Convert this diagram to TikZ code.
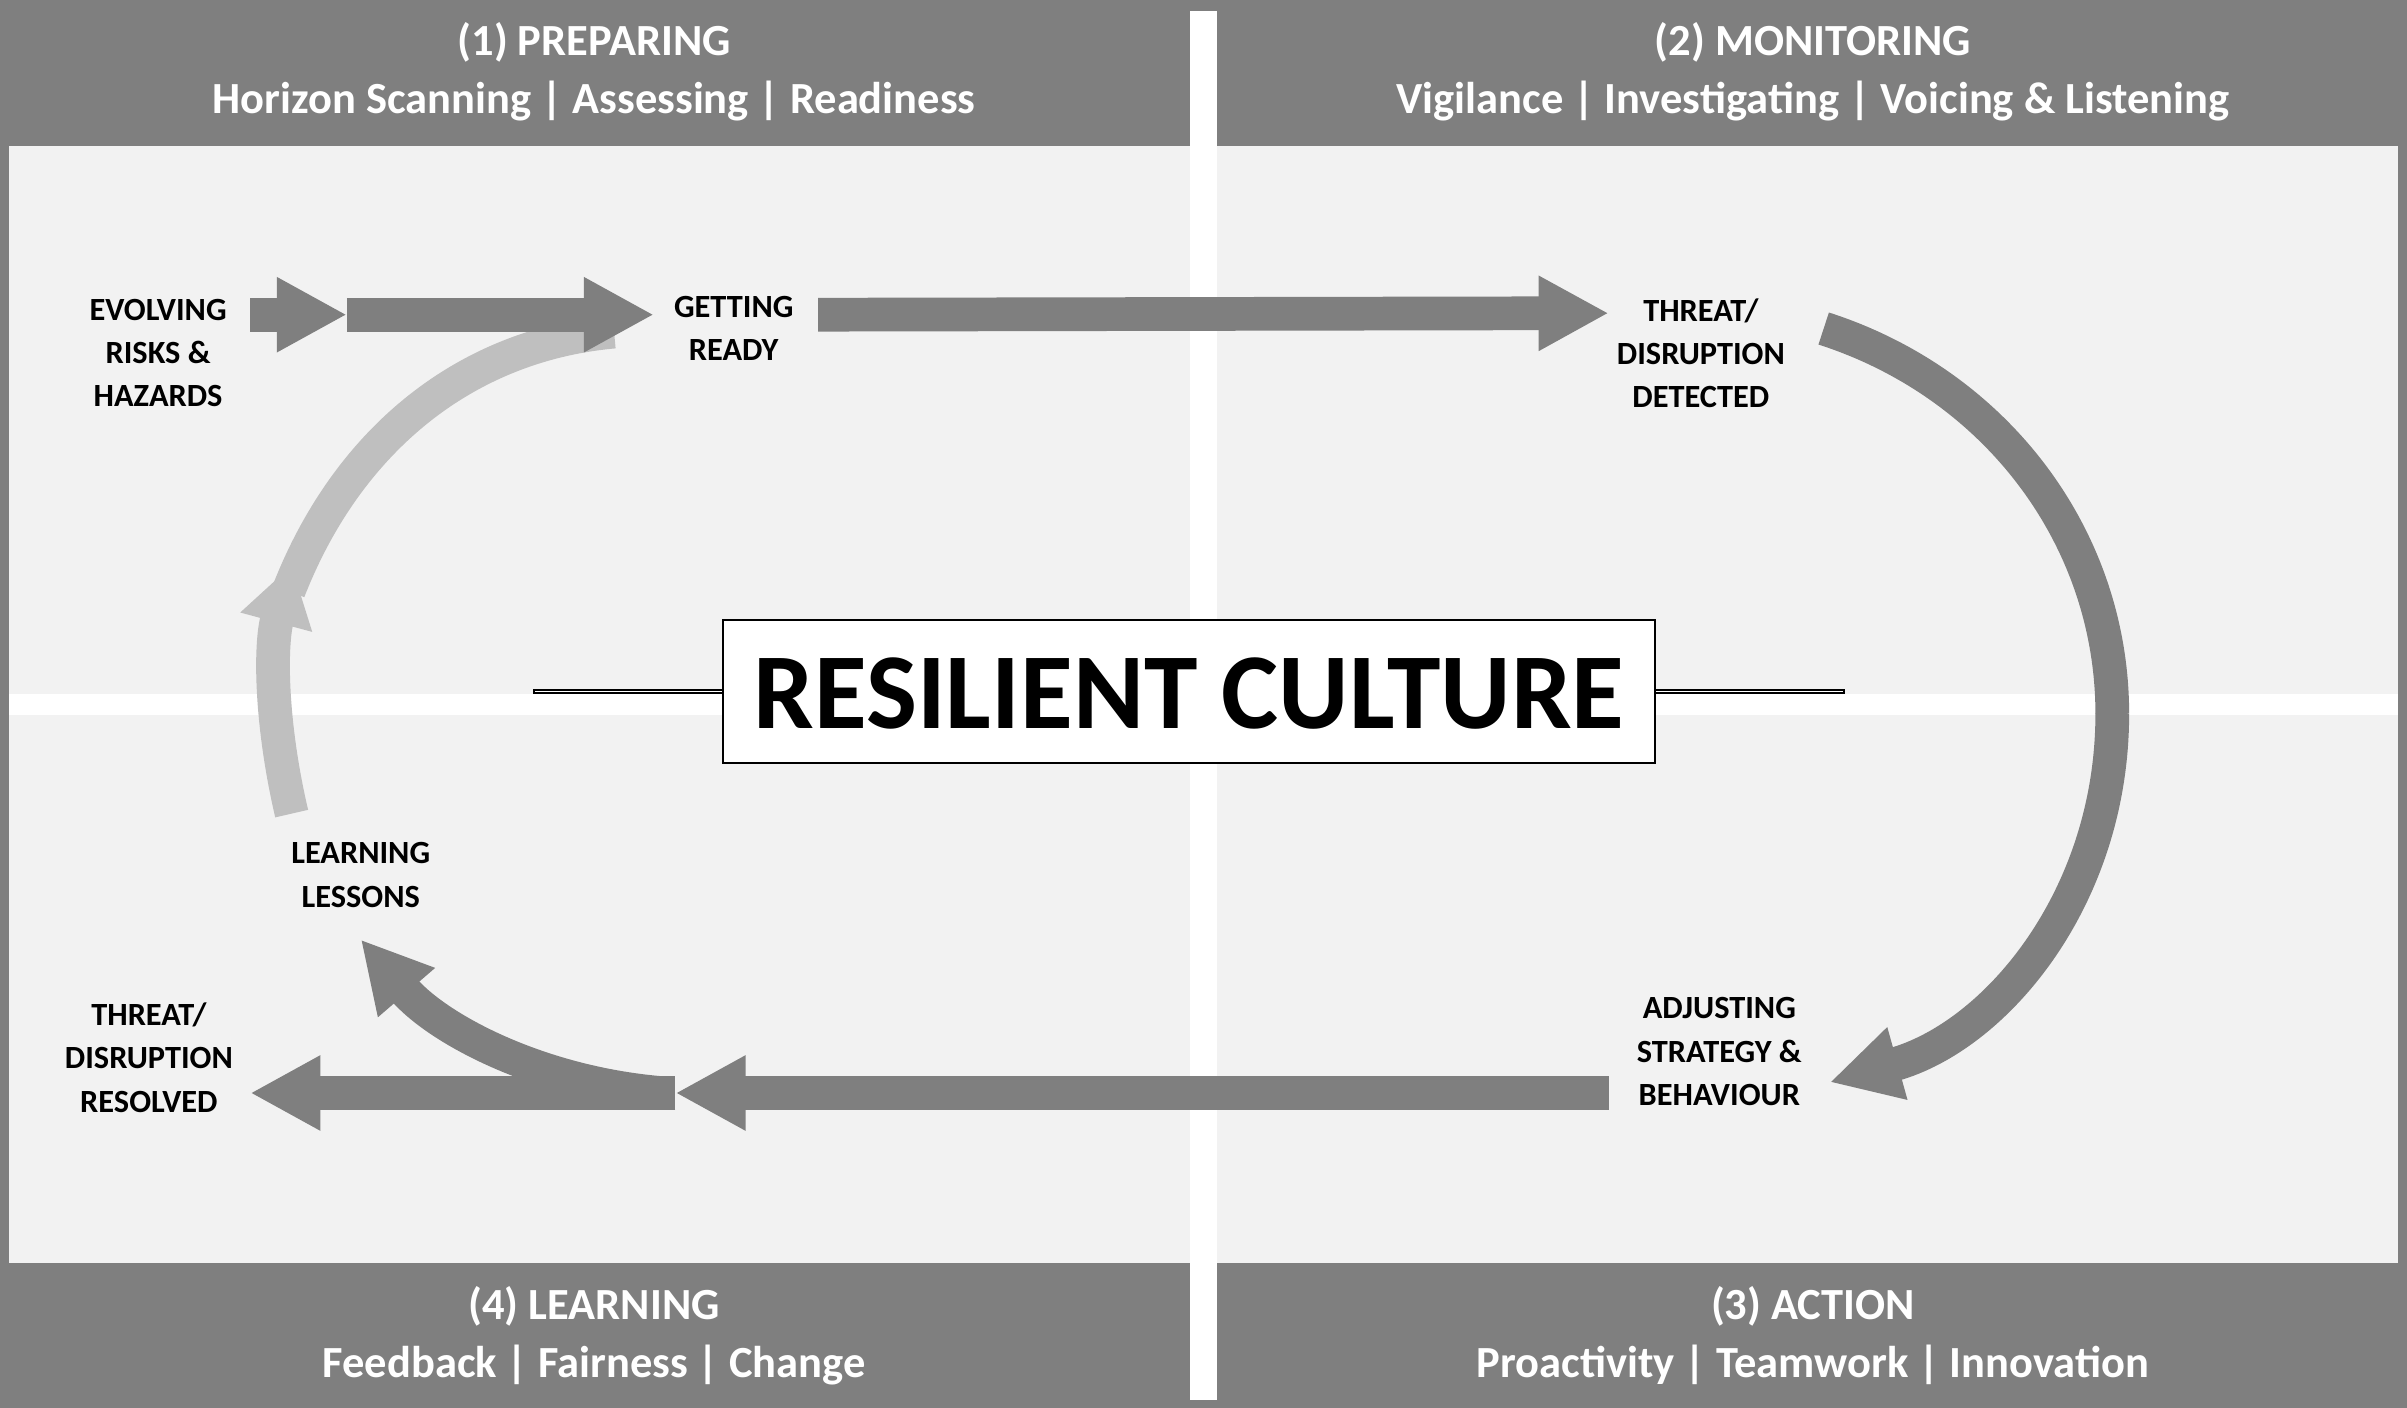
\documentclass[tikz,border=0pt]{standalone}
\usepackage{fontspec}
\setmainfont{Carlito}
\usetikzlibrary{arrows.meta}
\definecolor{dk}{HTML}{7F7F7F}
\definecolor{lt}{HTML}{F2F2F2}
\definecolor{lg}{HTML}{BFBFBF}
\begin{document}
\begin{tikzpicture}[x=0.02cm,y=-0.02cm,
  hdr/.style={text=white,font=\bfseries\fontsize{16.5}{21.5}\selectfont,align=center},
  lbl/.style={font=\bfseries\fontsize{12}{16}\selectfont,align=center},
  arr/.style={draw=dk,line width=12.5pt,-{Triangle[width=26pt,length=26pt]}},
  arrn/.style={draw=dk,line width=12.5pt},
  larr/.style={draw=lg,line width=12.5pt,-{Triangle[width=26pt,length=22pt]}}]
\useasboundingbox (0,0) rectangle (1568,917);
\fill[dk] (0,0) rectangle (1568,917);
\fill[lt] (6,95) rectangle (1562,823);
\fill[white] (775,7) rectangle (793,912);
\fill[white] (6,452) rectangle (1562,466);
\node[hdr] (h1) at (387,47) {(1) PREPARING\\Horizon Scanning | Assessing | Readiness};
\node[hdr] (h2) at (1181,47) {(2) MONITORING\\Vigilance | Investigating | Voicing \& Listening};
\node[hdr] (h4) at (387,870) {(4) LEARNING\\Feedback | Fairness | Change};
\node[hdr] (h3) at (1181,870) {(3) ACTION\\Proactivity | Teamwork | Innovation};
% light arc
\coordinate (l0) at (190,530);
\coordinate (l1) at (190,368);
\coordinate (l2) at (400,216);
\draw[larr] (l0) .. controls (176,470) and (176,420) .. (l1);
\draw[draw=lg,line width=12.5pt] (188,385) .. controls (225,290) and (300,225) .. (l2);
% labels
\node[lbl] (ev) at (103,230) {EVOLVING\\RISKS \&\\HAZARDS};
\node[lbl] (gr) at (478,214) {GETTING\\READY};
\node[lbl] (td) at (1108,230) {THREAT/\\DISRUPTION\\DETECTED};
\node[lbl] (ad) at (1120,685) {ADJUSTING\\STRATEGY \&\\BEHAVIOUR};
\node[lbl] (ll) at (235,570) {LEARNING\\LESSONS};
\node[lbl] (tr) at (97,689) {THREAT/\\DISRUPTION\\RESOLVED};
% top arrows
\coordinate (a0) at (163,205);
\coordinate (a1) at (226,205);
\coordinate (a2) at (426,205);
\draw[arr] (a0) -- (a1);
\draw[arr] (a1) -- (a2);
\coordinate (b0) at (533,205);
\coordinate (b1) at (1048,204);
\draw[arr] (b0) -- (b1);
% right arc
\coordinate (c0) at (1188,214);
\coordinate (c1) at (1376,465);
\coordinate (c2) at (1192,705);
\draw[arrn] (c0) .. controls (1300,250) and (1376,350) .. (c1);
\draw[arr] (c1) .. controls (1376,585) and (1300,675) .. (c2);
% bottom arrows
\coordinate (d0) at (1048,712);
\coordinate (d1) at (440,712);
\coordinate (d2) at (163,712);
\draw[arr] (d0) -- (d1);
\draw[arr] (d1) -- (d2);
% lower-left arc
\coordinate (e0) at (430,712);
\coordinate (e1) at (235,612);
\draw[arr] (e0) .. controls (350,705) and (285,670) .. (e1);
% center
\node[draw=black,fill=white,line width=0.8pt,minimum width=607\pgflinewidth,inner sep=0pt] (rc) at (774.5,450.5) {};
\draw[black,line width=0.8pt,fill=white] (471,404) rectangle (1078,497);
\node[font=\bfseries\fontsize{40}{44}\selectfont] (rct) at (774.5,452) {RESILIENT CULTURE};
\end{tikzpicture}
\end{document}
